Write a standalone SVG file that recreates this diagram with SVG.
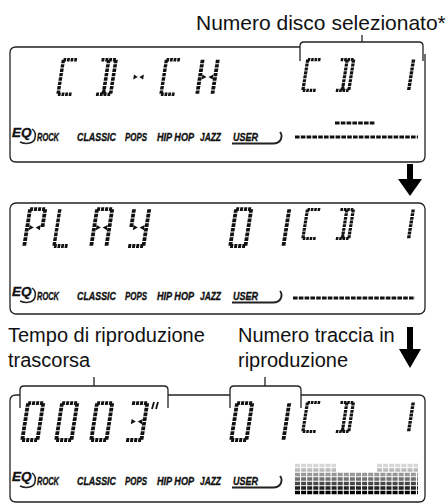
<svg xmlns="http://www.w3.org/2000/svg" width="447" height="504" viewBox="0 0 447 504">
<style>
.lbl{font-family:"Liberation Sans",Arial,sans-serif;fill:#111}
.eq{font-family:"Liberation Sans",Arial,sans-serif;font-weight:bold;font-style:italic;fill:#111;stroke:#111;stroke-width:0.35}
.ol{fill:none;stroke:#222;stroke-width:1.3}
.h{fill:none;stroke:#111;stroke-width:3.8;stroke-dasharray:3 1}
.v{fill:none;stroke:#111;stroke-width:3.8;stroke-dasharray:3.6 1}
.tri{fill:#111}
.bar{fill:none;stroke:#111;stroke-width:2.8;stroke-dasharray:4.6 1.2}
.sp{fill:none;stroke-width:3.6;stroke-dasharray:5 1.1}
.ar{fill:#000}
</style>
<defs>
<g id="tr"><path class="tri" d="M4,-22.6 L8.6,-20 L4,-17.4Z M15,-22.6 L10.4,-20 L15,-17.4Z"/></g>
<g id="gC"><path class="h" d="M1.9,-38.1H17.1M1.9,-1.9H17.1"/><path class="v" d="M1.9,-38.1V-1.9"/></g>
<g id="gD"><path class="h" d="M1.9,-38.1H17.1M1.9,-1.9H17.1"/><path class="v" d="M17.1,-38.1V-1.9M9.5,-38.1V-1.9"/><path class="tri" d="M6.5,-1.9L9.5,-9L12.5,-1.9Z"/></g>
<g id="gDash"><use href="#tr"/></g>
<g id="gH"><path class="v" d="M1.9,-38.1V-1.9M17.1,-38.1V-1.9"/><use href="#tr"/></g>
<g id="gP"><path class="h" d="M1.9,-38.1H17.1"/><path class="v" d="M1.9,-38.1V-1.9M17.1,-38.1V-20"/><use href="#tr"/></g>
<g id="gL"><path class="v" d="M1.9,-38.1V-1.9"/><path class="h" d="M1.9,-1.9H17.1"/></g>
<g id="gA"><path class="h" d="M1.9,-38.1H17.1"/><path class="v" d="M1.9,-38.1V-1.9M17.1,-38.1V-1.9"/><use href="#tr"/></g>
<g id="gY"><path class="v" d="M1.9,-38.1V-20M17.1,-38.1V-1.9"/><path class="h" d="M1.9,-1.9H17.1"/><use href="#tr"/></g>
<g id="g0"><path class="h" d="M1.9,-38.1H17.1M1.9,-1.9H17.1"/><path class="v" d="M1.9,-38.1V-1.9M17.1,-38.1V-1.9"/></g>
<g id="g1"><path class="v" d="M17.1,-38.1V-1.9"/></g>
<g id="g3"><path class="h" d="M1.9,-38.1H17.1M1.9,-1.9H17.1"/><path class="v" d="M17.1,-38.1V-1.9"/><use href="#tr"/></g>
<g id="eqrow">
<text class="eq" x="12" y="-4" font-size="13.5">EQ</text>
<path class="ol" style="stroke-width:1.5" d="M20,1 C27,4 34,2 35,-3 C36,-7 35,-10 32,-12"/>
<text class="eq" font-size="11.5" x="37" y="0" textLength="22" lengthAdjust="spacingAndGlyphs">ROCK</text>
<text class="eq" font-size="11.5" x="77" y="0" textLength="39" lengthAdjust="spacingAndGlyphs">CLASSIC</text>
<text class="eq" font-size="11.5" x="125" y="0" textLength="22" lengthAdjust="spacingAndGlyphs">POPS</text>
<text class="eq" font-size="11.5" x="157" y="0" textLength="37" lengthAdjust="spacingAndGlyphs">HIP HOP</text>
<text class="eq" font-size="11.5" x="200" y="0" textLength="21" lengthAdjust="spacingAndGlyphs">JAZZ</text>
<text class="eq" font-size="11.5" x="233" y="0" textLength="25" lengthAdjust="spacingAndGlyphs">USER</text>
<path class="ol" style="stroke-width:1.9" d="M232,2.5 H273 Q279,2.5 281,-2 Q282.5,-6 280,-9"/>
</g>
</defs>

<g id="label-disco"><text class="lbl" x="196" y="30" font-size="21">Numero disco selezionato*</text></g>
<g id="label-tempo"><text class="lbl" x="8" y="342" font-size="20">Tempo di riproduzione</text><text class="lbl" x="8" y="367" font-size="20">trascorsa</text></g>
<g id="label-traccia"><text class="lbl" x="238" y="342" font-size="20">Numero traccia in</text><text class="lbl" x="238" y="367" font-size="20">riproduzione</text></g>

<g id="panel1">
<path class="ol" d="M300,47 H16 Q10,47 10,53 V156 Q10,162 16,162 H419 Q425,162 425,156 V54"/>
<use href="#gC" transform="translate(56,96) skewX(-9) scale(0.9,0.95)"/>
<use href="#gD" transform="translate(94,96) skewX(-9) scale(0.95,0.95)"/>
<use href="#gDash" transform="translate(127,96) skewX(-9) scale(0.9,0.95)"/>
<use href="#gC" transform="translate(159,96) skewX(-9) scale(0.9,0.95)"/>
<use href="#gH" transform="translate(195,96) skewX(-9) scale(1,0.95)"/>
<use href="#gC" transform="translate(301,92) skewX(-9) scale(0.85,0.85)"/>
<use href="#gD" transform="translate(334,92) skewX(-9) scale(0.85,0.85)"/>
<use href="#g1" transform="translate(393,92) skewX(-9) scale(0.9,0.85)"/>
<use href="#eqrow" transform="translate(0,141)"/>
<path class="bar" d="M335,123 H375"/>
<path class="bar" d="M295,137 H418"/>
</g>

<g id="panel2">
<rect class="ol" x="10" y="203" width="415" height="111" rx="6"/>
<use href="#gP" transform="translate(22,248) skewX(-9) scale(1,1.02)"/>
<use href="#gL" transform="translate(52,248) skewX(-9) scale(0.9,1.02)"/>
<use href="#gA" transform="translate(89,248) skewX(-9) scale(1,1.02)"/>
<use href="#gY" transform="translate(126,248) skewX(-9) scale(1,1.02)"/>
<use href="#g0" transform="translate(228,248) skewX(-9) scale(1,1.02)"/>
<use href="#g1" transform="translate(266,248) skewX(-9) scale(1,1.02)"/>
<use href="#gC" transform="translate(301,240) skewX(-9) scale(0.85,0.8)"/>
<use href="#gD" transform="translate(334,240) skewX(-9) scale(0.85,0.8)"/>
<use href="#g1" transform="translate(393,240) skewX(-9) scale(0.9,0.8)"/>
<use href="#eqrow" transform="translate(0,300)"/>
<path class="bar" d="M293,298 H415"/>
</g>

<g id="panel3">
<path class="ol" d="M20,395 H16 Q10,395 10,401 V496 Q10,502 16,502 H419 Q425,502 425,496 V401 Q425,395 419,395 H301 M168,395 H230"/>
<use href="#g0" transform="translate(20,442) skewX(-9) scale(1,1.02)"/>
<use href="#g0" transform="translate(54,442) skewX(-9) scale(1,1.02)"/>
<use href="#g0" transform="translate(89,442) skewX(-9) scale(1,1.02)"/>
<use href="#g3" transform="translate(124,442) skewX(-9) scale(1,1.02)"/>
<path d="M152,409 L154,402 M156,409 L158,402" stroke="#111" stroke-width="1.8" fill="none"/>
<use href="#g0" transform="translate(229,442) skewX(-9) scale(1,1.02)"/>
<use href="#g1" transform="translate(266,442) skewX(-9) scale(1,1.02)"/>
<use href="#gC" transform="translate(301,433) skewX(-9) scale(0.85,0.8)"/>
<use href="#gD" transform="translate(334,433) skewX(-9) scale(0.85,0.8)"/>
<use href="#g1" transform="translate(393,433) skewX(-9) scale(0.9,0.8)"/>
<use href="#eqrow" transform="translate(0,485)"/>
<g id="spectrum">
<path class="sp" stroke="#d6d6d6" d="M295,465.5H336M377,465.5H418"/>
<path class="sp" stroke="#bababa" d="M295,470H336M377,470H418"/>
<path class="sp" stroke="#989898" d="M295,474.5H418"/>
<path class="sp" stroke="#727272" d="M295,479H418"/>
<path class="sp" stroke="#484848" d="M295,483.5H418"/>
<path class="sp" stroke="#222" d="M295,488H418"/>
<path class="sp" stroke="#000" d="M295,492.5H418"/>
</g>
</g>

<g id="brackets">
<path class="ol" d="M300,61 V46 Q300,42 304,42 H419 Q423,42 423,46 V61 M362,42 V35"/>
<path class="ol" d="M20,408 V390 Q20,386 24,386 H164 Q168,386 168,390 V408 M94,386 V377"/>
<path class="ol" d="M230,408 V390 Q230,386 234,386 H297 Q301,386 301,390 V408 M265,386 V377"/>
</g>

<g id="connectors">
<rect class="ar" x="407" y="164" width="6" height="16"/>
<path class="ar" d="M398,179 H422 L410,196Z"/>
<rect class="ar" x="407" y="327" width="6" height="23"/>
<path class="ar" d="M399,349 H421 L410,368Z"/>
</g>
</svg>
